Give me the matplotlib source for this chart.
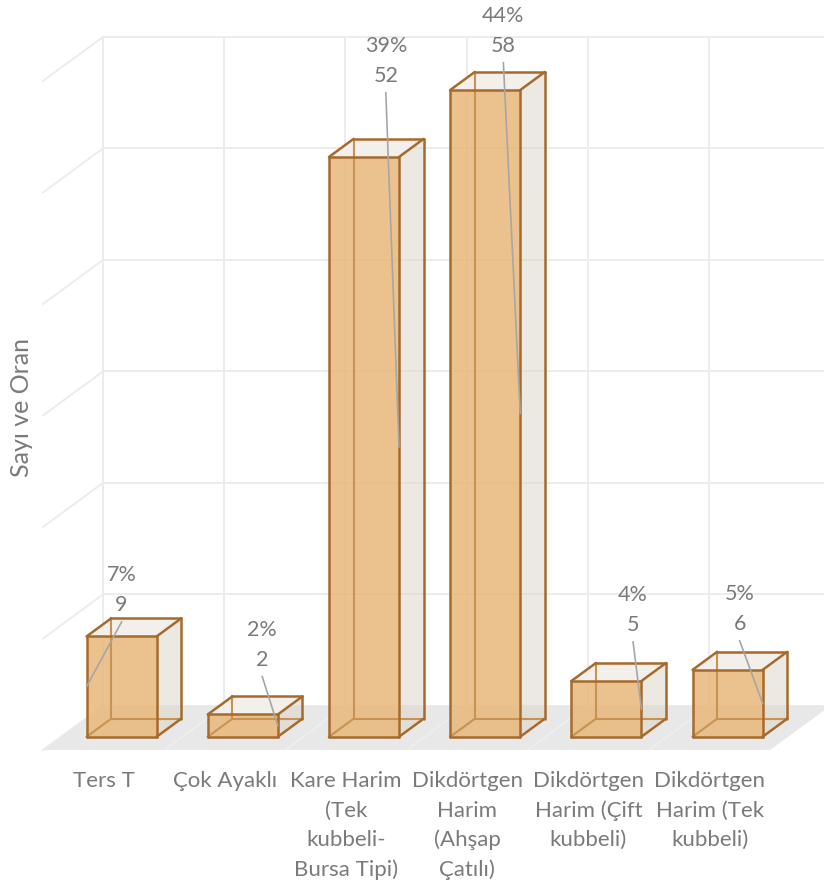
import matplotlib
matplotlib.use("Agg")
import matplotlib.pyplot as plt
from matplotlib.patches import Polygon

# chart data
categories = ["Ters T", "Çok Ayaklı", "Kare Harim\n(Tek\nkubbeli-\nBursa Tipi)",
              "Dikdörtgen\nHarim\n(Ahşap\nÇatılı)", "Dikdörtgen\nHarim (Çift\nkubbeli)",
              "Dikdörtgen\nHarim (Tek\nkubbeli)"]
counts = [9, 2, 52, 58, 5, 6]
percents = [7, 2, 39, 44, 4, 5]
y_ticks = [0, 10, 20, 30, 40, 50, 60]
y_title = "Sayı ve Oran"

# label placement (layout only)
label_dx = [0.0, 0.16, 0.18, 0.15, 0.22, 0.10]
label_dy = [2.8, 4.9, 7.25, 3.95, 5.0, 4.1]
leader_side = [-1, 1, 1, 1, 1, 1]

# oblique projection of depth axis (z from 0 front to 1 back)
DX, DY = 0.495, 3.95
Z_FRONT, Z_BACK = 0.3, 0.71
HALF_W = 0.289

GRID = "#ECECEC"
FLOOR = "#E8E8E8"
EDGE = "#A66A2C"
EDGE_IN = "#C99250"
TXT = "#7A7A7A"
LEAD = "#A6A6A6"

plt.rcParams['font.family'] = ['Lato', 'DejaVu Sans']


def P(u, v, z):
    return (u + DX * z, v + DY * z)


fig = plt.figure(figsize=(8.24, 8.86), dpi=100)
ax = fig.add_axes([0, 0, 1, 1])
ax.set_xlim(-0.355, 6.444)
ax.set_ylim(-12.20, 67.26)
ax.axis('off')

n = len(categories)
top = y_ticks[-1]

# back wall and side wall gridlines
for v in y_ticks:
    x0, y0 = P(0, v, 1)
    x1, y1 = P(n + 0.2, v, 1)
    ax.plot([x0, x1], [y0, y1], color=GRID, lw=1.4, zorder=1, solid_capstyle='butt')
    a = P(0, v, 0)
    b = P(0, v, 1)
    ax.plot([a[0], b[0]], [a[1], b[1]], color=GRID, lw=1.4, zorder=1)
for i in range(n + 1):
    a = P(i, 0, 1)
    b = P(i, top, 1)
    ax.plot([a[0], b[0]], [a[1], b[1]], color=GRID, lw=1.4, zorder=1)

# floor
floor = Polygon([P(0, 0, 0), P(n, 0, 0), P(n, 0, 1), P(0, 0, 1)],
                closed=True, facecolor=FLOOR, edgecolor='none', zorder=2)
ax.add_patch(floor)
for i in range(1, n):
    a = P(i, 0, 0)
    b = P(i, 0, 1)
    ax.plot([a[0], b[0]], [a[1], b[1]], color="#F0F0F0", lw=1.0, zorder=3)

# 3d bars
for i, val in enumerate(counts):
    l = i + 0.5 - HALF_W
    r = i + 0.5 + HALF_W
    zf, zb = Z_FRONT, Z_BACK
    zo = 5 + i
    right = [P(r, 0, zf), P(r, 0, zb), P(r, val, zb), P(r, val, zf)]
    topf = [P(l, val, zf), P(r, val, zf), P(r, val, zb), P(l, val, zb)]
    front = [P(l, 0, zf), P(r, 0, zf), P(r, val, zf), P(l, val, zf)]
    ax.add_patch(Polygon(right, closed=True, facecolor=(0.86, 0.83, 0.78, 0.5),
                         edgecolor='none', zorder=zo))
    ax.add_patch(Polygon(topf, closed=True, facecolor="#F3F0EB",
                         edgecolor='none', zorder=zo))
    ax.add_patch(Polygon(front, closed=True, facecolor=(0.91, 0.72, 0.48, 0.85),
                         edgecolor='none', zorder=zo))
    # edges seen through the faces
    for a, b in [(P(l, 0, zb), P(l, val, zb)), (P(l, 0, zb), P(r, 0, zb)),
                 (P(l, 0, zf), P(l, 0, zb))]:
        ax.plot([a[0], b[0]], [a[1], b[1]], color=EDGE_IN, lw=1.5, zorder=zo + 0.1)
    # outer edges
    for a, b in [(P(l, 0, zf), P(r, 0, zf)), (P(r, 0, zf), P(r, val, zf)),
                 (P(r, val, zf), P(l, val, zf)), (P(l, val, zf), P(l, 0, zf)),
                 (P(l, val, zf), P(l, val, zb)), (P(l, val, zb), P(r, val, zb)),
                 (P(r, val, zf), P(r, val, zb)), (P(r, val, zb), P(r, 0, zb)),
                 (P(r, 0, zb), P(r, 0, zf))]:
        ax.plot([a[0], b[0]], [a[1], b[1]], color=EDGE, lw=1.8, zorder=zo + 0.2,
                solid_capstyle='round')

# data labels with leader lines
for i, val in enumerate(counts):
    cx, cy = P(i + 0.5, val, Z_FRONT)
    lx = cx + label_dx[i]
    ly = cy + label_dy[i]
    ax.text(lx, ly, str(val), ha='center', va='center', fontsize=15.5,
            color=TXT, zorder=20)
    ax.text(lx, ly + 2.69, f"{percents[i]}%", ha='center', va='center',
            fontsize=15.5, color=TXT, zorder=20)
    ex, ey = P(i + 0.5 + leader_side[i] * HALF_W, val / 2, Z_FRONT)
    ax.plot([lx, ex], [ly - 1.5, ey], color=LEAD, lw=1.2, zorder=19)

# category labels
for i, cat in enumerate(categories):
    for k, line in enumerate(cat.split("\n")):
        ax.text(i + 0.5, -2.78 - 2.65 * k, line, ha='center', va='center',
                fontsize=16, color=TXT)

ax.text(-0.18, 30.7, y_title, rotation=90, ha='center', va='center',
        fontsize=18, color=TXT)

fig.savefig("out.png", dpi=100)
